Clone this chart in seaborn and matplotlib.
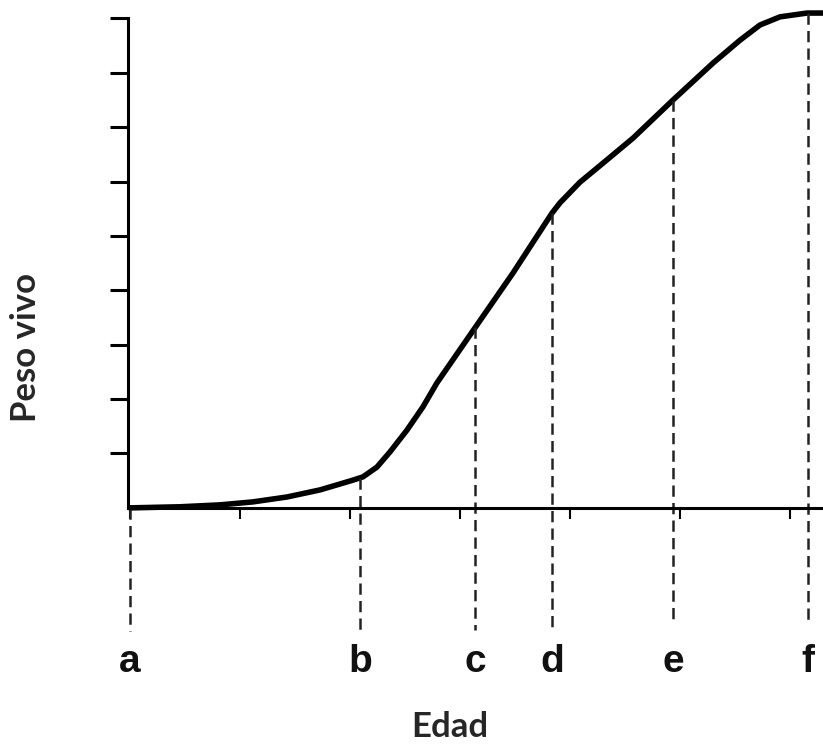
import matplotlib.pyplot as plt
import seaborn as sns
import pandas as pd
import numpy as np

sns.set_theme(style="white")

# curva de crecimiento (edad y peso en unidades de tick)
edad = [0, 0.455, 0.818, 1.118, 1.427, 1.727, 2.027, 2.118, 2.245, 2.364,
        2.518, 2.664, 2.791, 3.136, 3.482, 3.836, 3.909, 4.091, 4.336, 4.573,
        4.936, 5.30, 5.545, 5.727, 5.909, 6.155, 6.32]
peso = [0, 0.02, 0.055, 0.11, 0.20, 0.33, 0.51, 0.57, 0.75, 1.03,
        1.43, 1.86, 2.30, 3.31, 4.32, 5.42, 5.61, 5.99, 6.40, 6.80,
        7.50, 8.18, 8.60, 8.88, 9.03, 9.10, 9.10]

etapas = ["a", "b", "c", "d", "e", "f"]
etapas_x = [0, 2.09, 3.14, 3.84, 4.94, 6.16]
etapas_fin = [-2.27, -2.27, -2.25, -2.25, -2.1, -2.06]

x_ticks = [0, 1, 2, 3, 4, 5, 6]
y_ticks = [1, 2, 3, 4, 5, 6, 7, 8, 9]

df = pd.DataFrame({"Edad": edad, "Peso": peso})

fig = plt.figure(figsize=(8.23, 7.44), dpi=100)
ax = fig.add_axes([128 / 823, 1 - 640 / 744, (823 - 128) / 823, 640 / 744])

sns.lineplot(data=df, x="Edad", y="Peso", sort=False, estimator=None,
             color="black", linewidth=4, ax=ax, solid_capstyle="round",
             solid_joinstyle="round")

# líneas discontinuas verticales
for x, fin in zip(etapas_x, etapas_fin):
    top = np.interp(x, edad, peso)
    ax.plot([x, x], [top, fin], color="#222222", lw=1.8,
            linestyle=(0, (4.5, 2.5)), clip_on=False)

for lab, x in zip(etapas, etapas_x):
    ax.text(x, -2.83, lab, ha="center", va="center", fontsize=28,
            fontweight="bold", family="Liberation Sans", color="#111111")

ax.set_xlim(-0.018, 6.3)
ax.set_ylim(-2.43, 9.34)

for s in ["top", "right"]:
    ax.spines[s].set_visible(False)
ax.spines["bottom"].set_position(("data", 0))
ax.spines["left"].set_bounds(0, 9)
ax.spines["left"].set_linewidth(2.2)
ax.spines["bottom"].set_linewidth(2.2)
ax.spines["left"].set_color("black")
ax.spines["bottom"].set_color("black")

ax.set_yticks(y_ticks)
ax.set_xticks(x_ticks)
ax.set_yticklabels([])
ax.set_xticklabels([])
ax.tick_params(axis="y", direction="out", length=13, width=2.2, color="black", left=True)
ax.tick_params(axis="x", direction="out", length=8, width=1.5, color="black", bottom=True)
ax.set_xlabel("")
ax.set_ylabel("")

fig.text(450 / 823, 1 - 727 / 744, "Edad", ha="center", va="center",
         fontsize=25, fontweight="bold", family="Lato")
fig.text(26 / 823, 1 - 348 / 744, "Peso vivo", ha="center", va="center",
         rotation=90, fontsize=25, fontweight="bold", family="Lato")

plt.savefig("out.png", dpi=100)
